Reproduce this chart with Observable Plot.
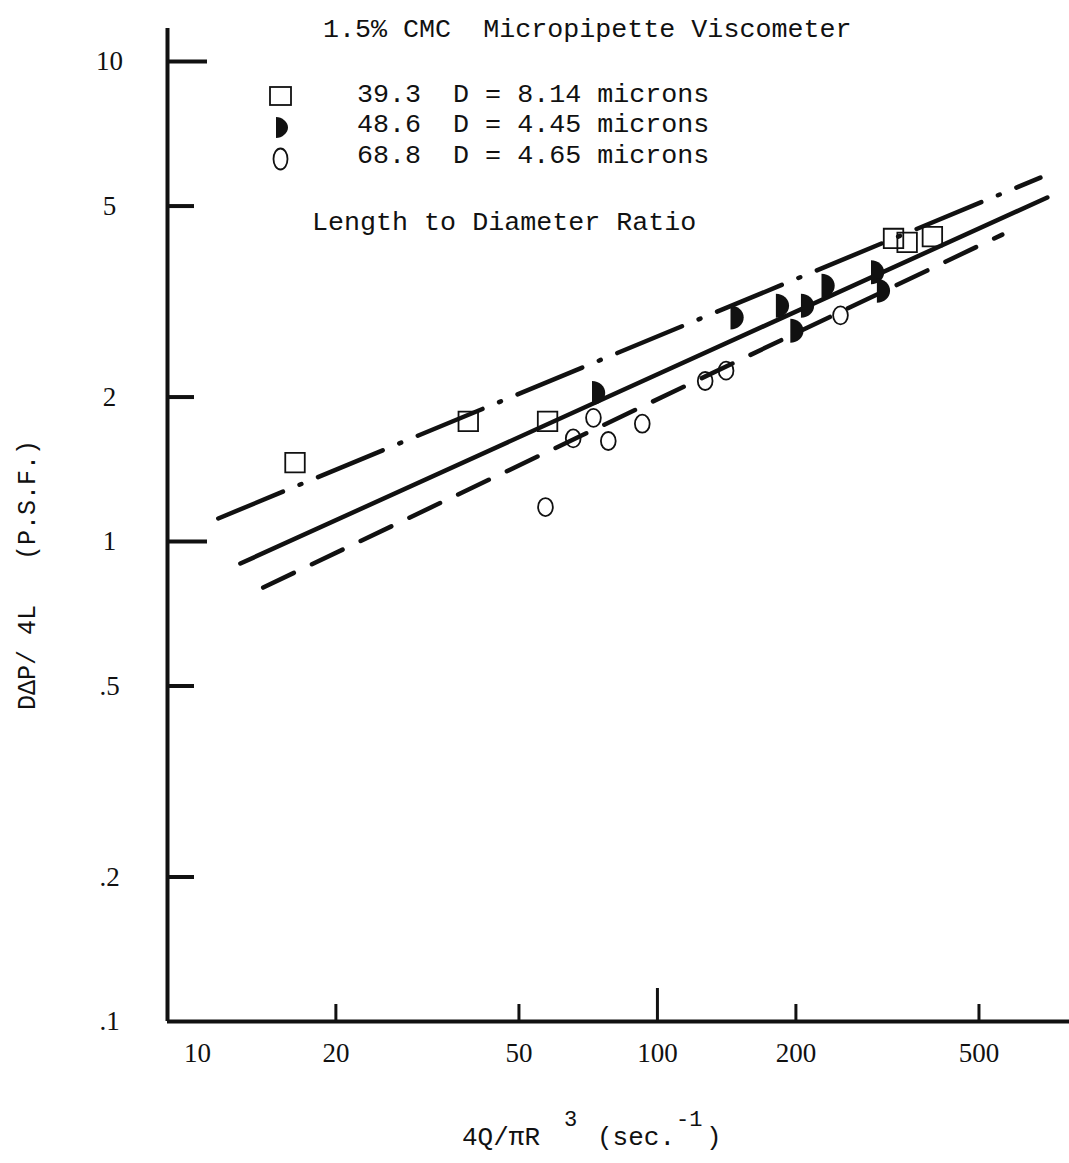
<!DOCTYPE html>
<html><head><meta charset="utf-8">
<script src="https://cdn.jsdelivr.net/npm/d3@7"></script>
<script src="https://cdn.jsdelivr.net/npm/@observablehq/plot@0.6"></script>
<style>
body{margin:0;background:#fff;}
#wrap{position:relative;width:1069px;height:1163px;overflow:hidden;background:#fff;color:#111;font-family:"Liberation Mono","Courier New",monospace;}
.t{position:absolute;white-space:pre;line-height:1;}
</style></head><body><div id="wrap"></div>
<script>
// ---- axes / ticks ----
const xTicks = [10, 20, 50, 100, 200, 500];
const xTickLabels = ["10", "20", "50", "100", "200", "500"];
const yTicks = [0.1, 0.2, 0.5, 1, 2, 5, 10];
const yTickLabels = [".1", ".2", ".5", "1", "2", "5", "10"];
const xDomain = [8.61, 786.6];
const yDomain = [0.1, 11.72];

// ---- data: L/D = 39.3 (squares) ----
const sqX = [16.3, 38.8, 57.7, 326, 349, 396];
const sqY = [1.46, 1.78, 1.78, 4.28, 4.20, 4.32];
// ---- data: L/D = 48.6 (half-filled) ----
const halfX = [74.5, 149, 187, 212, 235, 201, 301, 310];
const halfY = [2.04, 2.93, 3.10, 3.10, 3.41, 2.75, 3.64, 3.33];
// ---- data: L/D = 68.8 (open circles) ----
const circX = [57.1, 65.6, 72.6, 78.2, 92.7, 127, 141, 250];
const circY = [1.18, 1.64, 1.81, 1.62, 1.76, 2.16, 2.27, 2.96];
// ---- fitted lines (endpoints) ----
const fitNames = ["dashdot", "solid", "dashed"];
const fitX1 = [11.1, 12.4, 13.9];
const fitY1 = [1.117, 0.900, 0.802];
const fitX2 = [680, 704, 562];
const fitY2 = [5.73, 5.21, 4.36];

const squares = sqX.map((x, i) => ({x, y: sqY[i]}));
const halves = halfX.map((x, i) => ({x, y: halfY[i]}));
const circles = circX.map((x, i) => ({x, y: circY[i]}));
const fit = k => [{x: fitX1[k], y: fitY1[k]}, {x: fitX2[k], y: fitY2[k]}];

const K = 0.5523;
const halfSym = {draw(ctx, size) {
  const r = Math.sqrt(size / Math.PI), a = r * 0.55, cx = -a, rx = 2 * a;
  ctx.moveTo(cx, -r);
  ctx.bezierCurveTo(cx + K * rx, -r, cx + rx, -K * r, cx + rx, 0);
  ctx.bezierCurveTo(cx + rx, K * r, cx + K * rx, r, cx, r);
  ctx.closePath();
}};
const ovalSym = {draw(ctx, size) {
  const r = Math.sqrt(size / Math.PI), rx = 0.82 * r, ry = r;
  ctx.moveTo(0, -ry);
  ctx.bezierCurveTo(K * rx, -ry, rx, -K * ry, rx, 0);
  ctx.bezierCurveTo(rx, K * ry, K * rx, ry, 0, ry);
  ctx.bezierCurveTo(-K * rx, ry, -rx, K * ry, -rx, 0);
  ctx.bezierCurveTo(-rx, -K * ry, -K * rx, -ry, 0, -ry);
  ctx.closePath();
}};

const INK = "#111";
const tickFont = '"Liberation Serif", serif';
const chart = Plot.plot({
  width: 1069, height: 1163,
  marginLeft: 167, marginRight: 0, marginTop: 28, marginBottom: 142,
  style: {background: "white", overflow: "visible"},
  x: {type: "log", domain: xDomain},
  y: {type: "log", domain: yDomain},
  marks: [
    Plot.ruleX([xDomain[0]], {stroke: INK, strokeWidth: 4}),
    Plot.ruleY([yDomain[0]], {stroke: INK, strokeWidth: 4}),
    Plot.axisY([10, 1], {anchor: "left", tickSize: -40, tickFormat: () => "", stroke: INK, strokeWidth: 4, label: null}),
    Plot.axisY([5, 2, 0.5, 0.2], {anchor: "left", tickSize: -27, tickFormat: () => "", stroke: INK, strokeWidth: 4, label: null}),
    Plot.axisY(yTicks, {anchor: "left", tickSize: 0, tickPadding: 58, textAnchor: "middle",
      tickFormat: d => yTickLabels[yTicks.indexOf(d)], fontSize: 27, fontFamily: tickFont, fill: INK, label: null}),
    Plot.axisX([100], {anchor: "bottom", tickSize: -33, tickFormat: () => "", stroke: INK, strokeWidth: 3, label: null}),
    Plot.axisX([20, 50, 200, 500], {anchor: "bottom", tickSize: -17, tickFormat: () => "", stroke: INK, strokeWidth: 3, label: null}),
    Plot.axisX(xTicks, {anchor: "bottom", tickSize: 0, tickPadding: 21,
      tickFormat: d => xTickLabels[xTicks.indexOf(d)], fontSize: 27, fontFamily: tickFont, fill: INK, label: null}),
    Plot.line(fit(0), {x: "x", y: "y", stroke: INK, strokeWidth: 4.5, strokeLinecap: "round", strokeDasharray: "70,18,2,18"}),
    Plot.line(fit(1), {x: "x", y: "y", stroke: INK, strokeWidth: 4.5, strokeLinecap: "round"}),
    Plot.line(fit(2), {x: "x", y: "y", stroke: INK, strokeWidth: 4.5, strokeLinecap: "round", strokeDasharray: "34,20"}),
    Plot.dot(squares, {x: "x", y: "y", symbol: "square", r: 11, stroke: INK, strokeWidth: 1.8, fill: "none"}),
    Plot.dot(circles, {x: "x", y: "y", symbol: ovalSym, r: 9, stroke: INK, strokeWidth: 1.8, fill: "none"}),
    Plot.dot(halves, {x: "x", y: "y", symbol: halfSym, r: 12, fill: INK, stroke: "none"})
  ]
});
const wrap = document.getElementById("wrap");
wrap.appendChild(chart);

function place(text, left, baseline, size, extra) {
  const d = document.createElement("div");
  d.className = "t";
  d.textContent = text;
  d.style.left = left + "px";
  d.style.top = (baseline - 0.767 * size) + "px";
  d.style.fontSize = size + "px";
  if (extra) Object.assign(d.style, extra);
  wrap.appendChild(d);
  return d;
}
place("1.5% CMC  Micropipette Viscometer", 323, 37, 26.7);
place("39.3  D = 8.14 microns", 357, 102, 26.7);
place("48.6  D = 4.45 microns", 357, 132, 26.7);
place("68.8  D = 4.65 microns", 357, 163, 26.7);
place("Length to Diameter Ratio", 312, 230, 26.7);

// legend symbols
const ns = "http://www.w3.org/2000/svg";
const lg = document.createElementNS(ns, "svg");
lg.setAttribute("width", 40); lg.setAttribute("height", 100);
Object.assign(lg.style, {position: "absolute", left: "260px", top: "80px"});
lg.innerHTML =
  '<rect x="10" y="7" width="21" height="18" fill="none" stroke="#111" stroke-width="1.8"/>' +
  '<path d="M16,37 C22,37 28,42 28,47.5 C28,53 22,58 16,58 Z" fill="#111"/>' +
  '<ellipse cx="20.5" cy="79" rx="7" ry="10.5" fill="none" stroke="#111" stroke-width="1.8"/>';
wrap.appendChild(lg);

// y axis title (rotated)
const yl = document.createElement("div");
yl.className = "t";
yl.textContent = "DΔP/ 4L   (P.S.F.)";
Object.assign(yl.style, {left: "28px", top: "575px", fontSize: "25px", transformOrigin: "0 0",
  transform: "rotate(-90deg) translate(-50%,-50%)"});
wrap.appendChild(yl);

// x axis title
place("4Q/πR", 462, 1145, 26);
place("3", 564, 1127, 22);
place("(sec.", 597, 1145, 26);
place("-1", 676, 1127, 22);
place(")", 706, 1145, 26);
</script></body></html>
